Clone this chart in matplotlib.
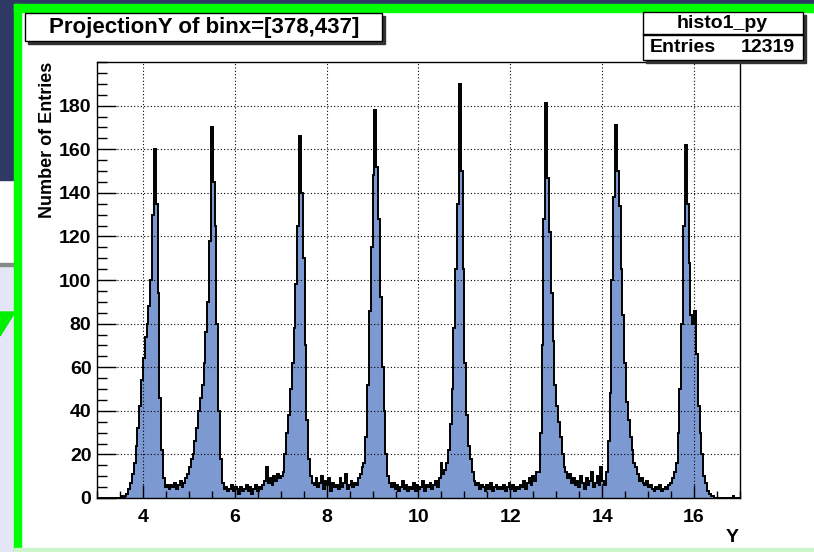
import numpy as np
import matplotlib
matplotlib.use("Agg")
import matplotlib.pyplot as plt
from matplotlib.patches import Rectangle, Polygon

plt.rcParams['font.family'] = ['Liberation Sans', 'DejaVu Sans']
plt.rcParams['font.weight'] = 'bold'

# histogram, bins of 0.04 from 3 to 17
bin_lo, bin_hi = 3.0, 17.0
counts = [
    0, 0, 0, 0, 0, 0, 0, 0, 0, 0,
    0, 0, 0, 1, 0, 1, 2, 4, 7, 11,
    16, 24, 32, 42, 54, 64, 74, 80, 88, 100,
    130, 160, 135, 94, 46, 22, 9, 5, 6, 4,
    6, 5, 7, 4, 6, 8, 5, 7, 9, 11,
    14, 18, 20, 26, 32, 40, 46, 52, 62, 76,
    90, 118, 170, 145, 125, 80, 40, 18, 7, 4,
    5, 3, 4, 6, 3, 5, 4, 2, 5, 3,
    4, 6, 3, 5, 2, 4, 6, 3, 5, 4,
    6, 8, 14, 7, 9, 6, 10, 8, 11, 9,
    10, 12, 20, 30, 38, 50, 62, 78, 98, 125,
    166, 140, 110, 70, 36, 18, 10, 7, 6, 9,
    5, 7, 10, 4, 8, 6, 9, 3, 7, 5,
    6, 4, 9, 5, 7, 11, 4, 6, 8, 5,
    7, 6, 9, 11, 14, 16, 28, 52, 86, 115,
    148, 178, 152, 128, 92, 60, 40, 20, 10, 7,
    5, 7, 4, 6, 3, 5, 8, 4, 6, 3,
    5, 4, 7, 3, 6, 4, 5, 8, 3, 6,
    5, 7, 4, 6, 8, 5, 9, 16, 11, 13,
    16, 22, 34, 50, 78, 105, 135, 190, 150, 105,
    62, 38, 24, 18, 12, 8, 6, 7, 4, 6,
    5, 3, 6, 4, 7, 3, 5, 6, 4, 5,
    4, 6, 3, 5, 7, 4, 6, 3, 5, 4,
    6, 5, 8, 4, 7, 9, 6, 10, 8, 12,
    12, 30, 70, 128, 181, 147, 122, 94, 72, 52,
    42, 35, 28, 20, 14, 12, 9, 11, 7, 9,
    6, 8, 5, 10, 7, 4, 9, 6, 8, 12,
    5, 7, 10, 6, 14, 8, 6, 12, 26, 48,
    100, 138, 171, 150, 134, 105, 84, 62, 44, 36,
    28, 22, 16, 14, 11, 8, 9, 7, 6, 8,
    5, 6, 4, 3, 5, 4, 6, 3, 4, 5,
    4, 6, 7, 9, 12, 16, 30, 50, 80, 125,
    162, 135, 108, 84, 80, 86, 66, 42, 30, 20,
    10, 7, 3, 2, 1, 1, 0, 0, 0, 0,
    0, 0, 0, 0, 0, 0, 1, 0, 0, 0,
]
x_ticks = [4, 6, 8, 10, 12, 14, 16]
y_ticks = [0, 20, 40, 60, 80, 100, 120, 140, 160, 180]

title = "ProjectionY of binx=[378,437]"
hist_name = "histo1_py"
entries = 12319

edges = np.linspace(bin_lo, bin_hi, len(counts) + 1)

W, H = 814, 552
fig = plt.figure(figsize=(W / 100, H / 100), dpi=100)
fig.patch.set_facecolor('white')


def px_rect(x0, y0, x1, y1, **kw):
    # rectangle given in pixel coords (top-left origin)
    fig.patches.append(Rectangle((x0 / W, 1 - y1 / H), (x1 - x0) / W, (y1 - y0) / H,
                                 transform=fig.transFigure, figure=fig, **kw))


# slide background around the canvas
px_rect(0, 0, W, 5, color='#2e3a63', zorder=0)
px_rect(0, 0, 15, 180, color='#2e3a63', zorder=0)
px_rect(0, 265, 15, H, color='#e4e6f6', zorder=0)
px_rect(0, 263, 15, 266, color='#888888', zorder=0)
fig.patches.append(Polygon([(0, 1 - 312 / H), (15 / W, 1 - 312 / H), (0, 1 - 336 / H)],
                           closed=True, transform=fig.transFigure, figure=fig,
                           color='#00ee00', zorder=0))
px_rect(14, 4, W, 12, color='#00ff00', zorder=1)
px_rect(14, 4, 21, H, color='#00ff00', zorder=1)
px_rect(14, 548, W, H, color='#ccf5cc', zorder=1)

ax = fig.add_axes([97 / W, 1 - 498 / H, (740 - 97) / W, (498 - 62) / H])
ax.stairs(counts, edges, fill=True, color='#7d99d1', zorder=2)
ax.stairs(counts, edges, color='black', lw=1.4, zorder=3)

ax.set_xlim(3, 17)
ax.set_ylim(0, 200)
ax.set_xticks(x_ticks)
ax.set_yticks(y_ticks)
ax.set_xticks(np.arange(3, 17.01, 0.5), minor=True)
ax.set_yticks(np.arange(0, 200.1, 5), minor=True)
ax.tick_params(axis='both', which='both', direction='in', top=False, right=False,
               labelsize=14, width=1, color='black')
ax.tick_params(axis='y', which='major', length=14, pad=4)
ax.tick_params(axis='y', which='minor', length=7)
ax.tick_params(axis='x', which='major', length=9.5, pad=8)
ax.tick_params(axis='x', which='minor', length=5)
for lab in ax.get_xticklabels() + ax.get_yticklabels():
    lab.set_fontweight('bold')
ax.grid(True, which='major', color='black', linestyle=(0, (1, 2)), lw=0.8)
ax.set_axisbelow(False)
for s in ax.spines.values():
    s.set_linewidth(1.0)
    s.set_zorder(4)

ax.set_ylabel("Number of Entries", fontsize=13, fontweight='bold', loc='top', labelpad=2)
fig.text(732 / W, 1 - 537 / H, "Y", fontsize=14, fontweight='bold', ha='center', va='center')

# title box with shadow
px_rect(28, 16, 385, 44, color='#333333', zorder=5)
px_rect(25, 13, 382, 41, facecolor='white', edgecolor='black', lw=1, zorder=6)
fig.text(204 / W, 1 - 27 / H, title, fontsize=16, fontweight='bold', ha='center', va='center', zorder=7)

# stats box with shadow
px_rect(646, 15, 806, 63, color='#333333', zorder=5)
px_rect(643, 12, 803, 60, facecolor='white', edgecolor='black', lw=1, zorder=6)
px_rect(643, 34, 803, 35, color='black', zorder=7)
fig.text(722 / W, 1 - 23 / H, hist_name, fontsize=14, fontweight='bold', ha='center', va='center', zorder=8)
fig.text(650 / W, 1 - 48 / H, "Entries", fontsize=14, fontweight='bold', ha='left', va='center', zorder=8)
fig.text(795 / W, 1 - 48 / H, str(entries), fontsize=14, fontweight='bold', ha='right', va='center', zorder=8)

fig.savefig("out.png", dpi=100)
